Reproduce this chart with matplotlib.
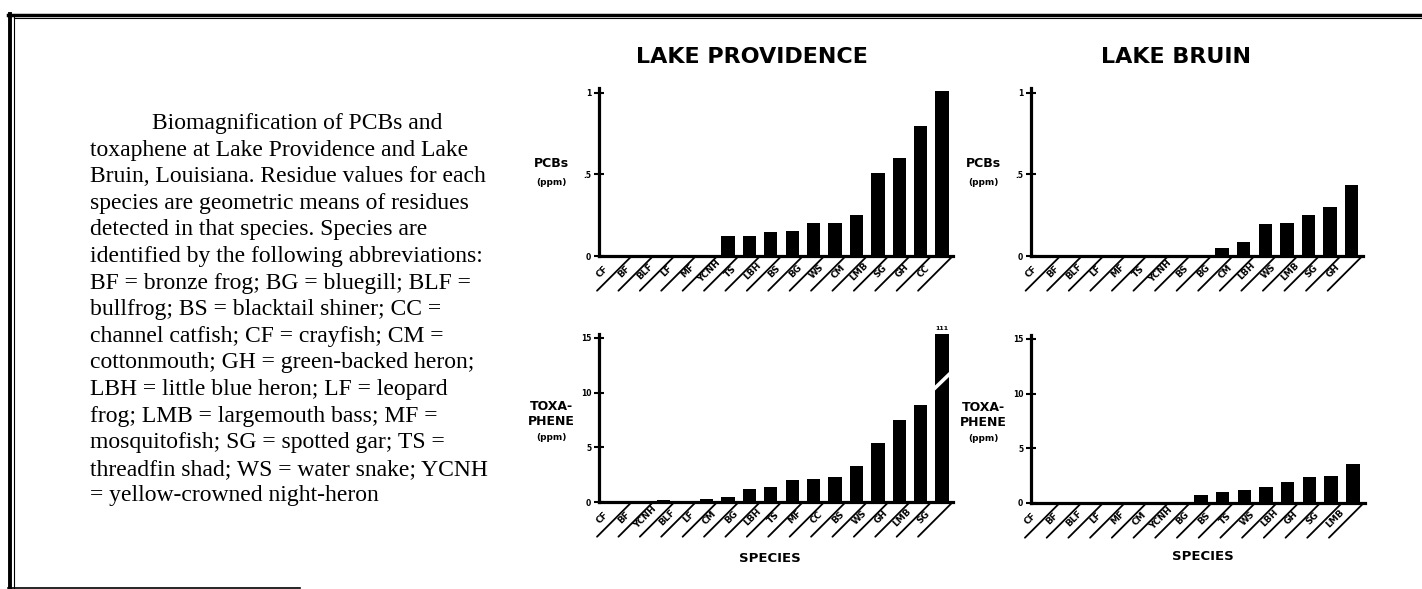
import matplotlib.pyplot as plt
from matplotlib.lines import Line2D

# Lake Providence
lp_pcb_species = ['CF', 'BF', 'BLF', 'LF', 'MF', 'YCNH', 'TS', 'LBH', 'BS', 'BG',
                  'WS', 'CM', 'LMB', 'SG', 'GH', 'CC']
lp_pcb_ppm = [0, 0, 0, 0, 0, 0.12, 0.12, 0.148, 0.155, 0.204,
              0.204, 0.25, 0.51, 0.60, 0.80, 1.01]

lp_tox_species = ['CF', 'BF', 'YCNH', 'BLF', 'LF', 'CM', 'BG', 'LBH', 'TS', 'MF',
                  'CC', 'BS', 'WS', 'GH', 'LMB', 'SG']
lp_tox_ppm = [0.03, 0, 0.15, 0.1, 0.3, 0.46, 1.19, 1.34, 2.04, 2.13,
              2.25, 3.31, 5.44, 7.5, 8.87, 111]

# Lake Bruin
lb_pcb_species = ['CF', 'BF', 'BLF', 'LF', 'MF', 'TS', 'YCNH', 'BS', 'BG', 'CM',
                  'LBH', 'WS', 'LMB', 'SG', 'GH']
lb_pcb_ppm = [0, 0, 0, 0, 0, 0, 0, 0, 0.047, 0.088,
              0.198, 0.20, 0.253, 0.30, 0.435]

lb_tox_species = ['CF', 'BF', 'BLF', 'LF', 'MF', 'CM', 'YCNH', 'BG', 'BS', 'TS',
                  'WS', 'LBH', 'GH', 'SG', 'LMB']
lb_tox_ppm = [0.03, 0, 0, 0, 0, 0.08, 0.12, 0.76, 1.03, 1.2,
              1.42, 1.9, 2.4, 2.45, 3.57]

pcb_ticks = [0, 0.5, 1]
pcb_ticklabels = ['0', '.5', '1']
tox_ticks = [0, 5, 10, 15]
tox_ticklabels = ['0', '5', '10', '15']

caption = [
    'Biomagnification of PCBs and',
    'toxaphene at Lake Providence and Lake',
    'Bruin, Louisiana. Residue values for each',
    'species are geometric means of residues',
    'detected in that species. Species are',
    'identified by the following abbreviations:',
    'BF = bronze frog; BG = bluegill; BLF =',
    'bullfrog; BS = blacktail shiner; CC =',
    'channel catfish; CF = crayfish; CM =',
    'cottonmouth; GH = green-backed heron;',
    'LBH = little blue heron; LF = leopard',
    'frog; LMB = largemouth bass; MF =',
    'mosquitofish; SG = spotted gar; TS =',
    'threadfin shad; WS = water snake; YCNH',
    '= yellow-crowned night-heron',
]

W, H = 1422, 589
fig = plt.figure(figsize=(W / 100, H / 100), dpi=100)
BOLD = dict(family='DejaVu Sans', fontweight='bold')


def add_ax(left, right, top, bottom):
    return fig.add_axes([left / W, 1 - bottom / H, (right - left) / W, (bottom - top) / H])


def panel(ax, species, ppm, ymax, ticks, ticklabels, xlim, ylabel):
    x = list(range(len(species)))
    ax.bar(x, ppm, width=0.62, color='black')
    ax.set_xlim(*xlim)
    ax.set_ylim(0, ymax)
    for s in ['top', 'right']:
        ax.spines[s].set_visible(False)
    ax.spines['left'].set_linewidth(2.3)
    ax.spines['bottom'].set_linewidth(2.3)
    ax.set_xticks([])
    ax.set_yticks(ticks)
    ax.set_yticklabels(ticklabels, fontsize=5.5, **BOLD)
    ax.tick_params(axis='y', direction='inout', length=7, width=1.5, pad=2)
    # slanted category labels with separator strokes
    for i, name in enumerate(species):
        ax.annotate('', xy=(i + 0.5, 0), xytext=(-25, -25), textcoords='offset points',
                    arrowprops=dict(arrowstyle='-', lw=1.3, color='black',
                                    shrinkA=0, shrinkB=0), annotation_clip=False)
        ax.annotate(name, xy=(i + 0.5, 0), xytext=(-21, -11), textcoords='offset points',
                    rotation=45, rotation_mode='anchor', ha='center', va='center',
                    fontsize=6.5, annotation_clip=False, **BOLD)
    for text, yf, size in ylabel:
        ax.annotate(text, xy=(0, yf), xycoords='axes fraction', xytext=(-34, 0),
                    textcoords='offset points', ha='center', va='center',
                    fontsize=size, **BOLD)


ax1 = add_ax(599, 953, 88, 256)
panel(ax1, lp_pcb_species, lp_pcb_ppm, 1.03, pcb_ticks, pcb_ticklabels, (-1.03, 15.51),
      [('PCBs', 0.55, 9), ('(ppm)', 0.44, 6.5)])

ax2 = add_ax(599, 953, 333.6, 502)
panel(ax2, lp_tox_species, lp_tox_ppm, 15.4, tox_ticks, tox_ticklabels, (-1.03, 15.51),
      [('TOXA-', 0.57, 9), ('PHENE', 0.48, 9), ('(ppm)', 0.383, 6.5)])
# broken SG bar, true value printed on top
sg = lp_tox_species.index('SG')
ax2.plot([sg - 0.45, sg + 0.45], [10.2, 11.9], color='white', lw=2.6, solid_capstyle='butt')
ax2.annotate(f'{lp_tox_ppm[sg]:g}', xy=(sg, 15.4), xytext=(0, 4), textcoords='offset points',
             ha='center', va='center', fontsize=4.5, annotation_clip=False, **BOLD)

ax3 = add_ax(1031, 1363, 88, 256)
panel(ax3, lb_pcb_species, lb_pcb_ppm, 1.03, pcb_ticks, pcb_ticklabels, (-0.86, 14.53),
      [('PCBs', 0.55, 9), ('(ppm)', 0.44, 6.5)])

ax4 = add_ax(1031, 1365, 334.6, 503)
panel(ax4, lb_tox_species, lb_tox_ppm, 15.4, tox_ticks, tox_ticklabels, (-0.82, 14.56),
      [('TOXA-', 0.57, 9), ('PHENE', 0.48, 9), ('(ppm)', 0.383, 6.5)])

# titles
fig.text(752 / W, 1 - 57 / H, 'LAKE PROVIDENCE', ha='center', va='center', fontsize=16, **BOLD)
fig.text(1176 / W, 1 - 57 / H, 'LAKE BRUIN', ha='center', va='center', fontsize=16, **BOLD)
fig.text(770 / W, 1 - 558 / H, 'SPECIES', ha='center', va='center', fontsize=9.5, **BOLD)
fig.text(1203 / W, 1 - 557 / H, 'SPECIES', ha='center', va='center', fontsize=9.5, **BOLD)

# caption block
for k, line in enumerate(caption):
    x0 = 152 if k == 0 else 90
    fig.text(x0 / W, 1 - (123.5 + 26.6 * k) / H, line, ha='left', va='center',
             fontsize=17, family='Liberation Serif')

# page frame
frame = [((10, 10), (14, 589), 2.8), ((14.5, 14.5), (16, 589), 0.8),
         ((8, 1422), (14.5, 14.5), 2.5), ((14, 1422), (17.5, 17.5), 0.8),
         ((8, 300), (587.5, 587.5), 1.2)]
for xs, ys, lw in frame:
    fig.add_artist(Line2D([v / W for v in xs], [1 - v / H for v in ys], color='black',
                          lw=lw, transform=fig.transFigure))

fig.savefig('out.png', dpi=100, facecolor='white')
